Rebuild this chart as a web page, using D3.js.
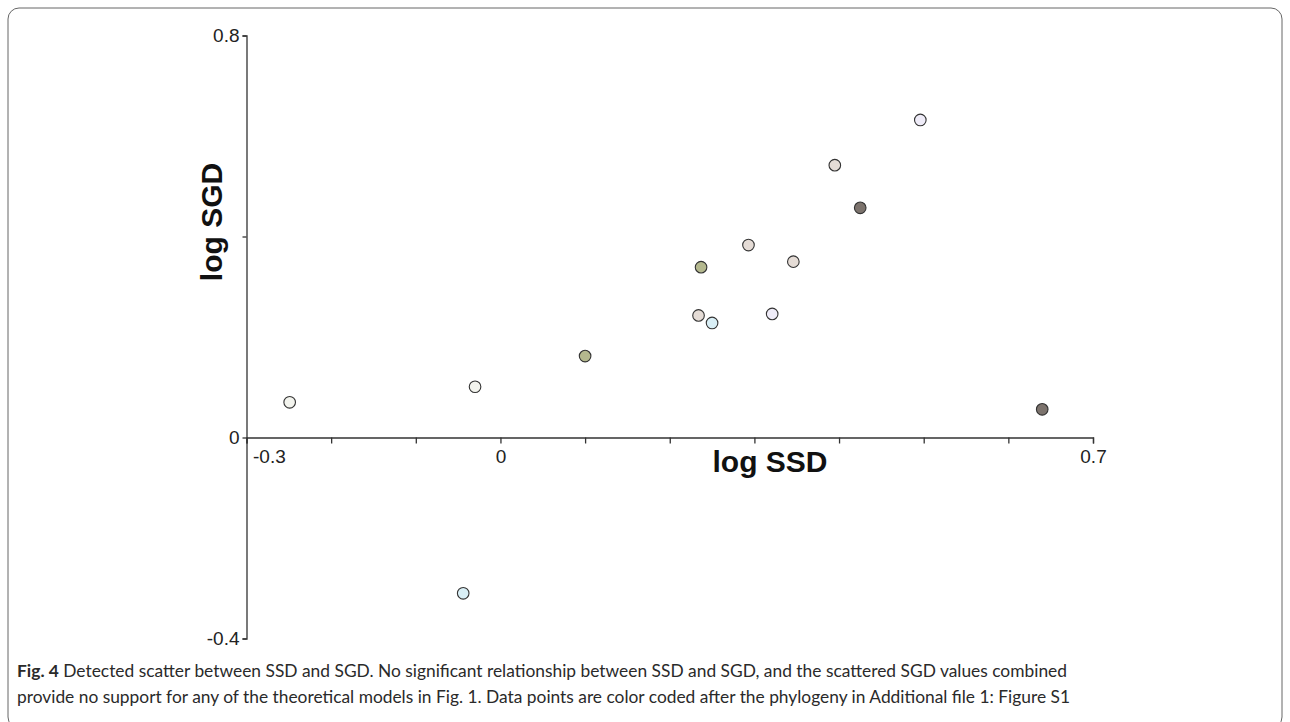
<!DOCTYPE html>
<html>
<head>
<meta charset="utf-8">
<script src="https://cdn.jsdelivr.net/npm/d3@7"></script>
<style>
  body { margin: 0; background: #fff; }
  svg { display: block; }
  .axis path, .axis line { stroke: #333; stroke-width: 1.3px; }
  .axis text { font-family: "Liberation Sans", Arial, sans-serif; font-size: 19px; fill: #222; }
</style>
</head>
<body>
<svg id="chart" width="1290" height="722"></svg>
<script>
// data
var ssd = [-0.249, -0.030, -0.044, 0.100, 0.234, 0.250, 0.237, 0.293, 0.321, 0.346, 0.395, 0.425, 0.496, 0.640];
var sgd = [0.070, 0.101, -0.310, 0.162, 0.243, 0.228, 0.339, 0.383, 0.246, 0.350, 0.542, 0.457, 0.632, 0.056];
var pointColors = ["#f3f4ee", "#f3f4ee", "#d9eff6", "#b4b88e", "#e5dcd6", "#d9eff6", "#b4b88e",
                   "#e5dcd6", "#efecf8", "#e5dcd6", "#e5dcd6", "#7c736d", "#efecf8", "#7c736d"];

var xTicks = [-0.3, -0.2, -0.1, 0, 0.1, 0.2, 0.3, 0.4, 0.5, 0.6, 0.7];
var xLabelled = [-0.3, 0, 0.7];
var yTicks = [0.8, 0.4, 0, -0.4];
var yLabelled = [0.8, 0, -0.4];

var captionBold = "Fig. 4";
var captionLines = [
	" Detected scatter between SSD and SGD. No significant relationship between SSD and SGD, and the scattered SGD values combined",
	"provide no support for any of the theoretical models in Fig. 1. Data points are color coded after the phylogeny in Additional file 1: Figure S1"
];

// plain hyphen labels, like the figure
function tickLabel(list) {
	return function(d) {
		var hit = list.some(function(v) { return Math.abs(v - d) < 1e-9; });
		return hit ? String(+d.toFixed(1)) : "";
	};
}

var svg = d3.select("#chart");

// outer frame (open at the bottom of the page)
svg.append("rect")
	.attr("x", 8)
	.attr("y", 8)
	.attr("width", 1274)
	.attr("height", 720)
	.attr("rx", 11)
	.attr("ry", 11)
	.attr("fill", "none")
	.attr("stroke", "#666")
	.attr("stroke-width", 1);

var x = d3.scaleLinear().domain([-0.3, 0.7]).range([246.5, 1093]);
var y = d3.scaleLinear().domain([-0.4, 0.8]).range([638.5, 35.5]);

// x axis through zero
var xAxis = svg.append("g")
	.attr("class", "axis")
	.attr("transform", "translate(0," + y(0) + ")")
	.call(d3.axisBottom(x)
		.tickValues(xTicks)
		.tickSizeOuter(0)
		.tickSize(6)
		.tickPadding(6.5)
		.tickFormat(tickLabel(xLabelled)));
xAxis.selectAll(".tick text")
	.filter(function(d) { return Math.abs(d + 0.3) < 1e-9; })
	.attr("text-anchor", "start")
	.attr("dx", 6);

// y axis at left
svg.append("g")
	.attr("class", "axis")
	.attr("transform", "translate(" + x(-0.3) + ",0)")
	.call(d3.axisLeft(y)
		.tickValues(yTicks)
		.tickSizeOuter(0)
		.tickSize(4)
		.tickPadding(3)
		.tickFormat(tickLabel(yLabelled)));

// axis titles
svg.append("text")
	.attr("x", 770)
	.attr("y", 472)
	.attr("text-anchor", "middle")
	.style("font-family", "'Liberation Sans', Arial, sans-serif")
	.style("font-weight", "bold")
	.style("font-size", "30px")
	.attr("fill", "#111")
	.text("log SSD");

svg.append("text")
	.attr("transform", "translate(222,222) rotate(-90)")
	.attr("text-anchor", "middle")
	.style("font-family", "'Liberation Sans', Arial, sans-serif")
	.style("font-weight", "bold")
	.style("font-size", "30px")
	.attr("fill", "#111")
	.text("log SGD");

// points
var pts = ssd.map(function(d, i) { return { x: d, y: sgd[i], c: pointColors[i] }; });
svg.append("g").selectAll("circle")
	.data(pts)
	.enter().append("circle")
	.attr("cx", function(d) { return x(d.x); })
	.attr("cy", function(d) { return y(d.y); })
	.attr("r", 5.8)
	.attr("fill", function(d) { return d.c; })
	.attr("stroke", "#333")
	.attr("stroke-width", 1.1);

// caption
var cap = svg.append("g")
	.style("font-family", "Lato, 'Open Sans', sans-serif")
	.style("font-size", "17px")
	.attr("fill", "#2a2a2a");

var t1 = cap.append("text").attr("x", 17).attr("y", 677)
	.attr("textLength", 1050).attr("lengthAdjust", "spacingAndGlyphs");
t1.append("tspan").style("font-weight", "bold").text(captionBold);
t1.append("tspan").text(captionLines[0]);

cap.append("text").attr("x", 17).attr("y", 703)
	.attr("textLength", 1053).attr("lengthAdjust", "spacingAndGlyphs")
	.text(captionLines[1]);
</script>
</body>
</html>
